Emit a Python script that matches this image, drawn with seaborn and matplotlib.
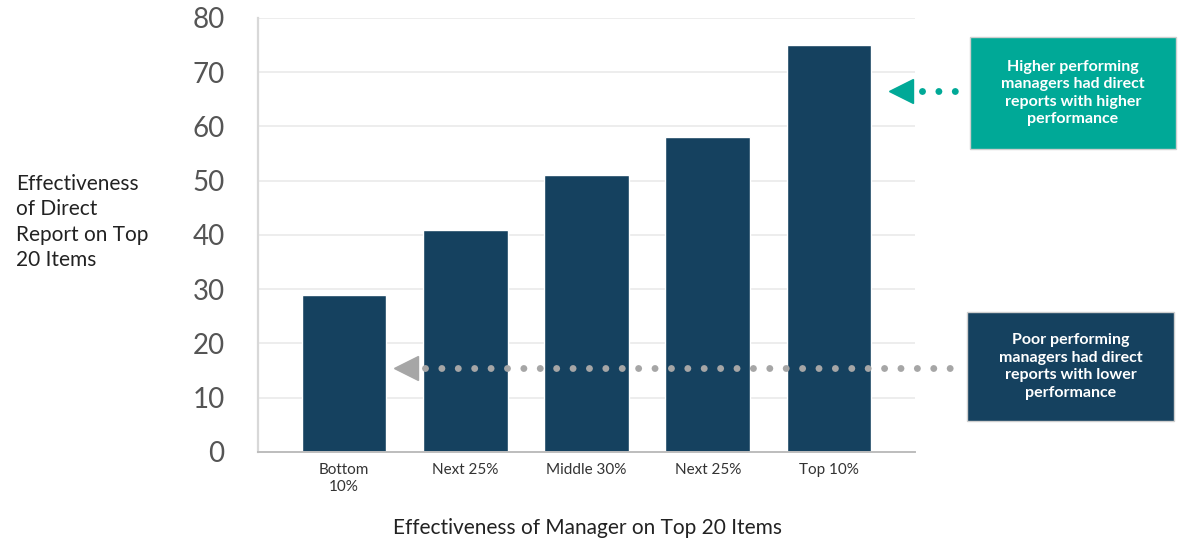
import pandas as pd
import matplotlib.pyplot as plt
import seaborn as sns
from matplotlib.patches import Rectangle
from matplotlib.lines import Line2D

# data
groups = ['g1', 'g2', 'g3', 'g4', 'g5']
tick_labels = ['Bottom\n10%', 'Next 25%', 'Middle 30%', 'Next 25%', 'Top 10%']
scores = [29, 41, 51, 58, 75]
y_ticks = [0, 10, 20, 30, 40, 50, 60, 70, 80]

df = pd.DataFrame({'group': groups, 'score': scores})

sns.set_style('white')
plt.rcParams['font.family'] = ['Lato', 'DejaVu Sans']

bar_color = '#15415f'
teal = '#00a997'
grey_txt = '#555555'

fig = plt.figure(figsize=(11.79, 5.38), dpi=100)
ax = fig.add_axes([0.2188, 0.1599, 0.5573, 0.8067])

for t in y_ticks[1:]:
    ax.axhline(t, color='#ececec', linewidth=1.3, zorder=0)

sns.barplot(data=df, x='group', y='score', color=bar_color, width=0.70,
            saturation=1, ax=ax, zorder=2)

ax.set_ylim(0, 80)
ax.set_xlim(-0.71, 4.71)
ax.set_yticks(y_ticks)
ax.set_xticks(range(len(groups)))
ax.set_xticklabels(tick_labels, fontsize=11, color='#333333', linespacing=1.25)
ax.tick_params(axis='y', length=0, pad=24, labelsize=20, labelcolor=grey_txt)
ax.tick_params(axis='x', length=0, pad=8)

for s in ['top', 'right']:
    ax.spines[s].set_visible(False)
ax.spines['left'].set_color('#d8d8d8')
ax.spines['left'].set_linewidth(1.6)
ax.spines['bottom'].set_color('#bdbdbd')
ax.spines['bottom'].set_linewidth(1.4)

ax.set_ylabel('Effectiveness\nof Direct\nReport on Top\n20 Items', rotation=0,
              fontsize=15, color='#222222', ha='left', va='center',
              multialignment='left', linespacing=1.32)
ax.yaxis.set_label_coords(-0.368, 0.53)
ax.set_xlabel('Effectiveness of Manager on Top 20 Items', fontsize=15,
              color='#222222', va='center')
ax.xaxis.set_label_coords(0.502, -0.175)

# callout boxes
fig.add_artist(Rectangle((0.8227, 0.7230), 0.1747, 0.2082, transform=fig.transFigure,
                         facecolor=teal, edgecolor='#cfcfcf', linewidth=1))
fig.text(0.9100, 0.8271, 'Higher performing\nmanagers had direct\nreports with higher\nperformance',
         ha='center', va='center', color='white', fontsize=11.5, fontweight='bold',
         linespacing=1.32)

fig.add_artist(Rectangle((0.8202, 0.2175), 0.1756, 0.2026, transform=fig.transFigure,
                         facecolor=bar_color, edgecolor='#cfcfcf', linewidth=1))
fig.text(0.9080, 0.3188, 'Poor performing\nmanagers had direct\nreports with lower\nperformance',
         ha='center', va='center', color='white', fontsize=11.5, fontweight='bold',
         linespacing=1.32)

# dotted arrows
fig.add_artist(Line2D([0.3605, 0.806], [0.316, 0.316], transform=fig.transFigure,
                      color='#a6a6a6', linewidth=5, linestyle=(0, (0.001, 2.36)),
                      dash_capstyle='round', zorder=5))
fig.add_artist(Line2D([0.3445], [0.316], transform=fig.transFigure, marker='<',
                      markersize=17, color='#a6a6a6', linestyle='none', zorder=5))

fig.add_artist(Line2D([0.782, 0.810], [0.8309, 0.8309], transform=fig.transFigure,
                      color=teal, linewidth=5, linestyle=(0, (0.001, 2.36)),
                      dash_capstyle='round', zorder=5))
fig.add_artist(Line2D([0.7645], [0.8309], transform=fig.transFigure, marker='<',
                      markersize=17, color=teal, linestyle='none', zorder=5))

plt.savefig('out.png', dpi=100)
